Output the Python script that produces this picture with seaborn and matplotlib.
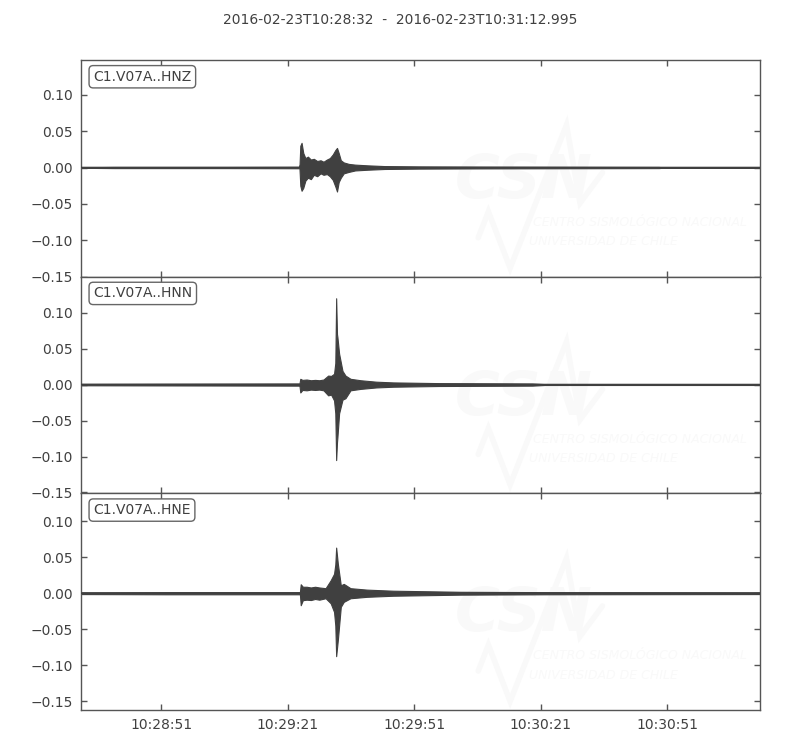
import matplotlib
matplotlib.use("Agg")
import matplotlib.pyplot as plt
import seaborn as sns
import pandas as pd
from datetime import datetime, timedelta
from matplotlib.ticker import FuncFormatter

# ---------------- data (envelopes) ----------------
start_time = datetime(2016, 2, 23, 10, 28, 32)
duration = 160.995
title_text = "2016-02-23T10:28:32  -  2016-02-23T10:31:12.995"

channels = ["C1.V07A..HNZ", "C1.V07A..HNN", "C1.V07A..HNE"]

t_z = [0, 8, 20, 35, 51.8, 52.0, 52.3, 52.7, 53.2, 53.8, 54.5, 55.2, 56.0, 56.8, 57.5,
       58.3, 59.0, 59.7, 60.3, 60.7, 61.1, 61.6, 62.3, 63.5, 65, 68, 72, 80, 95, 115,
       137, 138, 161]
up_z = [0.0004, 0.0008, 0.0008, 0.0008, 0.001, 0.030, 0.034, 0.020, 0.013, 0.015, 0.011,
        0.012, 0.009, 0.010, 0.008, 0.011, 0.013, 0.018, 0.024, 0.027, 0.020, 0.010, 0.007,
        0.005, 0.004, 0.003, 0.002, 0.0015, 0.0012, 0.001, 0.0008, 0.0003, 0.0003]
lo_z = [-0.0004, -0.0008, -0.0008, -0.0008, -0.001, -0.025, -0.032, -0.028, -0.018, -0.014,
        -0.016, -0.010, -0.012, -0.008, -0.010, -0.009, -0.012, -0.017, -0.026, -0.033,
        -0.020, -0.014, -0.008, -0.006, -0.004, -0.003, -0.002, -0.0015, -0.0012, -0.001,
        -0.0008, -0.0003, -0.0003]

t_n = [0, 20, 51.8, 52.0, 52.5, 53.5, 54.5, 55.5, 56.5, 57.5, 58.6, 59.3, 60.0, 60.3, 60.5,
       60.7, 60.8, 61.2, 62.0, 62.7, 63.9, 66.3, 70, 74, 85, 107, 110, 161]
up_n = [0.001, 0.0012, 0.0015, 0.008, 0.0065, 0.007, 0.006, 0.0065, 0.006, 0.007, 0.0125,
        0.012, 0.015, 0.030, 0.120, 0.070, 0.066, 0.043, 0.019, 0.0125, 0.008, 0.006, 0.004,
        0.003, 0.002, 0.0015, 0.0006, 0.0006]
lo_n = [-0.001, -0.0012, -0.0015, -0.011, -0.0075, -0.008, -0.007, -0.0075, -0.007, -0.008,
        -0.015, -0.014, -0.022, -0.040, -0.105, -0.080, -0.073, -0.040, -0.021, -0.019,
        -0.008, -0.006, -0.004, -0.003, -0.002, -0.0015, -0.0006, -0.0006]

t_e = [0, 20, 51.9, 52.1, 52.6, 53.5, 54.5, 55.5, 56.5, 58.0, 59.2, 60.0, 60.3, 60.5, 60.9,
       61.6, 62.3, 63.9, 67.8, 74, 90, 110, 161]
up_e = [0.0012, 0.0015, 0.0015, 0.0125, 0.009, 0.009, 0.008, 0.009, 0.008, 0.007, 0.018,
        0.027, 0.040, 0.0635, 0.041, 0.011, 0.013, 0.007, 0.005, 0.0035, 0.002, 0.0015, 0.0012]
lo_e = [-0.0012, -0.0015, -0.0015, -0.0167, -0.0097, -0.009, -0.0095, -0.008, -0.009, -0.007,
        -0.014, -0.026, -0.045, -0.0876, -0.065, -0.019, -0.012, -0.007, -0.005, -0.0035,
        -0.002, -0.0015, -0.0012]

ylims = [(-0.1502, 0.148), (-0.1512, 0.150), (-0.1625, 0.139)]
y_ticks = [-0.15, -0.10, -0.05, 0.00, 0.05, 0.10]
x_tick_offsets = [19, 49, 79, 109, 139]

traces = [(t_z, up_z, lo_z), (t_n, up_n, lo_n), (t_e, up_e, lo_e)]

# ---------------- style ----------------
sns.set_theme(style="ticks")
plt.rcParams["font.family"] = ["DejaVu Sans"]
TXT = "#404040"
TRACE = "#404040"
SPINE = "#555555"
plt.rcParams.update({
    "text.color": TXT, "axes.labelcolor": TXT,
    "xtick.color": SPINE, "ytick.color": SPINE,
    "xtick.labelcolor": TXT, "ytick.labelcolor": TXT,
})

fig = plt.figure(figsize=(8, 7.5), dpi=100)
left, right, top, bottom = 81 / 800, 760 / 800, 1 - 60 / 750, 1 - 710 / 750
h = (top - bottom) / 3

fmt = FuncFormatter(lambda v, p: (start_time + timedelta(seconds=float(v))).strftime("%H:%M:%S"))
yfmt = FuncFormatter(lambda v, p: f"{v:.2f}".replace("-", "\u2212"))

for i, (name, (t, up, lo)) in enumerate(zip(channels, traces)):
    ax = fig.add_axes([left, top - (i + 1) * h, right - left, h])
    # very faint watermark
    wm = "#f9f9f9"
    ax.plot([0.585, 0.60, 0.632, 0.715, 0.735, 0.768], [0.18, 0.30, 0.04, 0.70, 0.34, 0.48],
            transform=ax.transAxes, color=wm, lw=4, zorder=0, solid_joinstyle="miter")
    ax.text(0.55, 0.44, "CSN", transform=ax.transAxes, fontsize=44, fontweight="bold",
            fontstyle="italic", color=wm, ha="left", va="center", zorder=0)
    ax.text(0.665, 0.25, "CENTRO SISMOLÓGICO NACIONAL", transform=ax.transAxes, fontsize=9,
            fontstyle="italic", color=wm, ha="left", va="center", zorder=0)
    ax.text(0.66, 0.16, "UNIVERSIDAD DE CHILE", transform=ax.transAxes, fontsize=9,
            fontstyle="italic", color=wm, ha="left", va="center", zorder=0)

    df = pd.DataFrame({"t": t, "up": up, "lo": lo})
    df["mid"] = (df["up"] + df["lo"]) / 2
    ax.fill_between(df["t"], df["lo"], df["up"], color=TRACE, lw=0.8, edgecolor=TRACE, zorder=2)
    sns.lineplot(data=df, x="t", y="mid", ax=ax, color=TRACE, lw=1.2, zorder=3,
                 estimator=None, sort=False)

    ax.set_xlim(0, duration)
    ax.set_ylim(*ylims[i])
    ax.set_yticks(y_ticks)
    ax.yaxis.set_major_formatter(yfmt)
    ax.set_xticks(x_tick_offsets)
    ax.xaxis.set_major_formatter(fmt)
    ax.set_xlabel("")
    ax.set_ylabel("")
    ax.tick_params(direction="in", top=True, right=True, length=4, width=1,
                   labelsize=10, pad=6)
    if i < 2:
        ax.tick_params(labelbottom=False)
    for s in ax.spines.values():
        s.set_color(SPINE)
        s.set_linewidth(1.0)
    ax.text(0.018, 0.955, name, transform=ax.transAxes, fontsize=10, va="top", ha="left",
            color=TXT, zorder=5,
            bbox=dict(boxstyle="round,pad=0.3", fc="white", ec="#666666", lw=1))

fig.text(0.5, 1 - 20 / 750, title_text, ha="center", va="center", fontsize=10, color=TXT)

fig.savefig("out.png", dpi=100)
